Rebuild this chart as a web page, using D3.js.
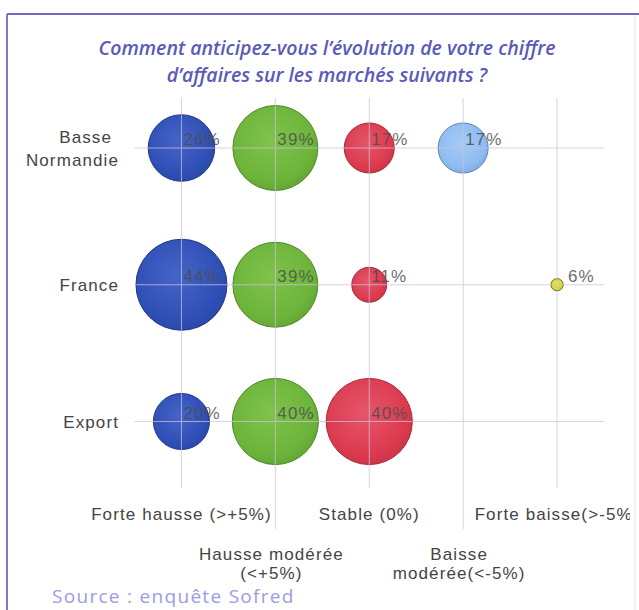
<!DOCTYPE html>
<html>
<head>
<meta charset="utf-8">
<script src="https://cdn.jsdelivr.net/npm/d3@7/dist/d3.min.js"></script>
<style>
  html, body { margin: 0; padding: 0; background: #fff; }
  svg { display: block; }
</style>
</head>
<body>
<svg id="chart" width="639" height="610"></svg>
<script>
// Markets (rows) and expected turnover trend (columns)
const markets = ["Basse Normandie", "France", "Export"];
const marketLines = [["Basse", "Normandie"], ["France"], ["Export"]];
const trends = ["Forte hausse (>+5%)", "Hausse modérée (<+5%)", "Stable (0%)", "Baisse modérée(<-5%)", "Forte baisse(>-5%)"];
const trendLines = [["Forte hausse (>+5%)"], ["Hausse modérée", "(<+5%)"], ["Stable (0%)"], ["Baisse", "modérée(<-5%)"], ["Forte baisse(>-5%)"]];

// Share of answers (%) per market, one array per trend
const forteHausse   = [26, 44, 20];
const hausseModeree = [39, 39, 40];
const stable        = [17, 11, 40];
const baisseModeree = [17, null, null];
const forteBaisse   = [null, 6, null];

const series = [forteHausse, hausseModeree, stable, baisseModeree, forteBaisse];
const colors = [
  { fill: "#2f4fb6", light: "#4565c8", stroke: "#22398a" },
  { fill: "#6db43a", light: "#7fc24c", stroke: "#4a8a24" },
  { fill: "#dc3a4e", light: "#e5566a", stroke: "#a52a3a" },
  { fill: "#8dbcf0", light: "#a5cbf5", stroke: "#5c84b8" },
  { fill: "#d8d52a", light: "#e6e45a", stroke: "#6a6812" }
];

const title = ["Comment anticipez-vous l\u2019évolution de votre chiffre", "d\u2019affaires sur les marchés suivants ?"];
const source = "Source : enquête Sofred";

const svg = d3.select("#chart");
const plot = { left: 134.5, right: 604, top: 98, bottom: 488 };

const x = d3.scalePoint().domain(trends).range([plot.left, plot.right]).padding(0.5);
const y = d3.scalePoint().domain(markets).range([148, 421.5]);
const r = d3.scaleRadial().domain([5.3, 44]).range([0, 45.5]);

// Frame
svg.append("line").attr("x1", 7).attr("x2", 639).attr("y1", 14).attr("y2", 14)
  .attr("stroke", "#6f6cc0").attr("stroke-width", 2);
svg.append("line").attr("x1", 7).attr("x2", 7).attr("y1", 14).attr("y2", 610)
  .attr("stroke", "#7b78c8").attr("stroke-width", 2);
svg.append("line").attr("x1", 635).attr("x2", 635).attr("y1", 15).attr("y2", 610)
  .attr("stroke", "#e4e2f2").attr("stroke-width", 1);

// Title
svg.append("g").selectAll("text").data(title).join("text")
  .attr("x", 327).attr("y", (d, i) => 55 + i * 27)
  .attr("text-anchor", "middle")
  .attr("font-family", "'Open Sans', sans-serif")
  .attr("font-style", "italic").attr("font-weight", 600)
  .attr("font-size", 19.5).attr("fill", "#5a5ab8")
  .text(d => d);

// Bubble gradients
const defs = svg.append("defs");
colors.forEach((c, i) => {
  const g = defs.append("radialGradient").attr("id", "bg" + i)
    .attr("cx", "45%").attr("cy", "40%").attr("r", "65%");
  g.append("stop").attr("offset", "0%").attr("stop-color", c.light);
  g.append("stop").attr("offset", "75%").attr("stop-color", c.fill);
  g.append("stop").attr("offset", "100%").attr("stop-color", d3.color(c.fill).darker(0.3));
});
defs.append("clipPath").attr("id", "clipRight")
  .append("rect").attr("x", 0).attr("y", 0).attr("width", 630).attr("height", 610);

// Bubbles
const points = [];
series.forEach((vals, si) => vals.forEach((v, mi) => {
  if (v != null) points.push({ trend: trends[si], market: markets[mi], v, si });
}));

svg.append("g").selectAll("circle").data(points).join("circle")
  .attr("cx", d => x(d.trend)).attr("cy", d => y(d.market))
  .attr("r", d => r(d.v))
  .attr("fill", d => `url(#bg${d.si})`)
  .attr("stroke", d => colors[d.si].stroke).attr("stroke-width", 1);

// Gridlines, drawn over the bubbles
const grid = svg.append("g").attr("stroke", "#cbc3dc").attr("stroke-width", 1).attr("opacity", 0.75);
grid.selectAll("line.v").data(trends).join("line").attr("class", "v")
  .attr("x1", d => x(d)).attr("x2", d => x(d))
  .attr("y1", plot.top).attr("y2", (d, i) => i % 2 ? 529 : plot.bottom);
grid.selectAll("line.h").data(markets).join("line").attr("class", "h")
  .attr("x1", plot.left).attr("x2", plot.right)
  .attr("y1", d => y(d)).attr("y2", d => y(d));

const labelFont = "'Liberation Sans', Arial, sans-serif";

// Value labels
svg.append("g").selectAll("text").data(points).join("text")
  .attr("x", d => x(d.trend) + (r(d.v) < 10 ? 11 : 2))
  .attr("y", d => y(d.market) - 3)
  .attr("font-family", labelFont).attr("font-size", 17)
  .attr("letter-spacing", 1.1)
  .attr("fill", "#4d4d4d").attr("fill-opacity", 0.85)
  .text(d => d.v + "%");

// Market labels
const yl = svg.append("g").selectAll("text").data(markets).join("text")
  .attr("font-family", labelFont).attr("font-size", 17)
  .attr("letter-spacing", 1.1).attr("fill", "#444")
  .attr("text-anchor", "end");
yl.each(function(d, i) {
  const lines = marketLines[i];
  const t = d3.select(this);
  lines.forEach((ln, k) => {
    t.append("tspan")
      .attr("x", lines.length > 1 && k === 0 ? 112 : 119)
      .attr("y", y(d) + 6 + (k - (lines.length - 1) / 2) * 23)
      .text(ln);
  });
});

// Trend labels, alternating rows
const xl = svg.append("g").attr("clip-path", "url(#clipRight)")
  .selectAll("text").data(trends).join("text")
  .attr("font-family", labelFont).attr("font-size", 17)
  .attr("letter-spacing", 1.1).attr("fill", "#444")
  .attr("text-anchor", "middle");
xl.each(function(d, i) {
  const t = d3.select(this);
  const lines = trendLines[i];
  const base = i % 2 ? 560 : 520;
  lines.forEach((ln, k) => {
    t.append("tspan").attr("x", x(d) - (i % 2 ? 4 : 0)).attr("y", base + k * 19).text(ln);
  });
});

// Source
svg.append("text").attr("x", 52).attr("y", 603)
  .attr("font-family", "'Open Sans', sans-serif").attr("font-size", 19)
  .attr("letter-spacing", 1.3)
  .attr("fill", "#9c9ce0")
  .text(source);
</script>
</body>
</html>
